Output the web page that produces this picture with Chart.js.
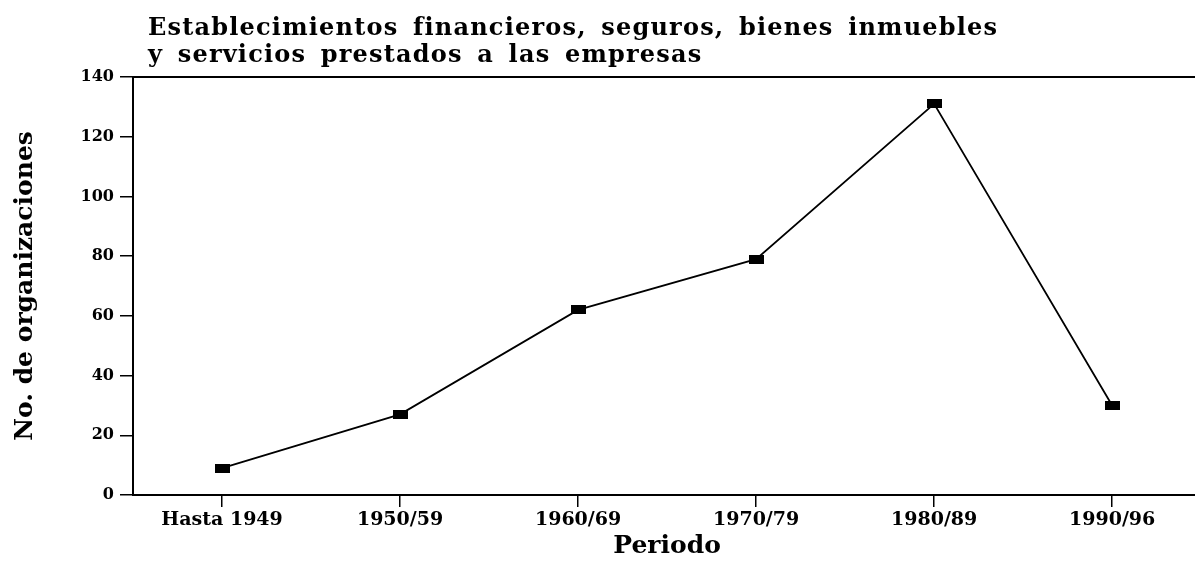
<!DOCTYPE html>
<html>
<head>
<meta charset="utf-8">
<script src="https://cdn.jsdelivr.net/npm/chart.js@4"></script>
<style>
html,body{margin:0;padding:0;background:#fff;overflow:hidden;}
#wrap{width:1211px;height:567px;position:relative;}
</style>
</head>
<body>
<div id="wrap"><canvas id="c" width="1211" height="567"></canvas></div>
<script>
const categories = ["Hasta 1949", "1950/59", "1960/69", "1970/79", "1980/89", "1990/96"];
const organizaciones = [9, 27, 62, 79, 131, 30];
const yTicks = [0, 20, 40, 60, 80, 100, 120, 140];
const titleLines = ["Establecimientos financieros, seguros, bienes inmuebles", "y servicios prestados a las empresas"];
const xTitle = "Periodo";
const yTitle = "No. de organizaciones";

const FONT = "'DejaVu Serif', 'Liberation Serif', serif";

// rectangular marker
const marker = document.createElement('canvas');
marker.width = 15; marker.height = 9;
const mctx = marker.getContext('2d');
mctx.fillStyle = '#000';
mctx.fillRect(0, 0, 15, 9);

const titlePlugin = {
  id: 'titlePlugin',
  afterDraw(chart) {
    const ctx = chart.ctx;
    const a = chart.chartArea;
    ctx.save();
    // top border line
    ctx.strokeStyle = '#000';
    ctx.lineWidth = 2;
    ctx.beginPath();
    ctx.moveTo(a.left, a.top);
    ctx.lineTo(a.right, a.top);
    ctx.stroke();
    // title
    ctx.fillStyle = '#000';
    ctx.font = "bold 24px " + FONT;
    ctx.textBaseline = 'alphabetic';
    ctx.textAlign = 'left';
    if ('letterSpacing' in ctx) ctx.letterSpacing = '1.2px';
    if ('wordSpacing' in ctx) ctx.wordSpacing = '5px';
    ctx.fillText(titleLines[0], 148, 35);
    ctx.fillText(titleLines[1], 148, 62);
    ctx.restore();
  }
};

new Chart(document.getElementById('c'), {
  type: 'line',
  data: {
    labels: categories,
    datasets: [{
      data: organizaciones,
      borderColor: '#000',
      borderWidth: 1.8,
      backgroundColor: '#000',
      pointStyle: marker,
      pointRadius: 8,
      pointHoverRadius: 8,
      tension: 0,
      fill: false
    }]
  },
  options: {
    responsive: false,
    animation: false,
    devicePixelRatio: 1,
    layout: { padding: { top: 77, right: 0, bottom: 0, left: 0 } },
    plugins: { legend: { display: false }, tooltip: { enabled: false }, title: { display: false } },
    scales: {
      x: {
        offset: true,
        grid: { display: true, drawOnChartArea: false, drawTicks: true, tickLength: 12, color: '#000', lineWidth: 1.5 },
        border: { display: true, color: '#000', width: 2 },
        ticks: { color: '#000', font: { family: FONT, size: 19, weight: 'bold' }, padding: 2, maxRotation: 0, autoSkip: false },
        title: { display: true, text: xTitle, color: '#000', font: { family: FONT, size: 25, weight: 'bold' }, padding: { top: 0, bottom: 6 } },
        afterFit(s) { s.height = 72; }
      },
      y: {
        min: 0, max: 140,
        afterBuildTicks(s) { s.ticks = yTicks.map(v => ({ value: v })); },
        grid: { display: true, drawOnChartArea: false, drawTicks: true, tickLength: 13, color: '#000', lineWidth: 1.5 },
        border: { display: true, color: '#000', width: 2 },
        ticks: { color: '#000', font: { family: FONT, size: 16, weight: 'bold' }, padding: 6 },
        title: { display: true, text: yTitle, color: '#000', font: { family: FONT, size: 25, weight: 'bold' }, padding: { top: 10, bottom: 0 } },
        afterFit(s) { s.width = 133; }
      }
    }
  },
  plugins: [titlePlugin]
});
</script>
</body>
</html>
